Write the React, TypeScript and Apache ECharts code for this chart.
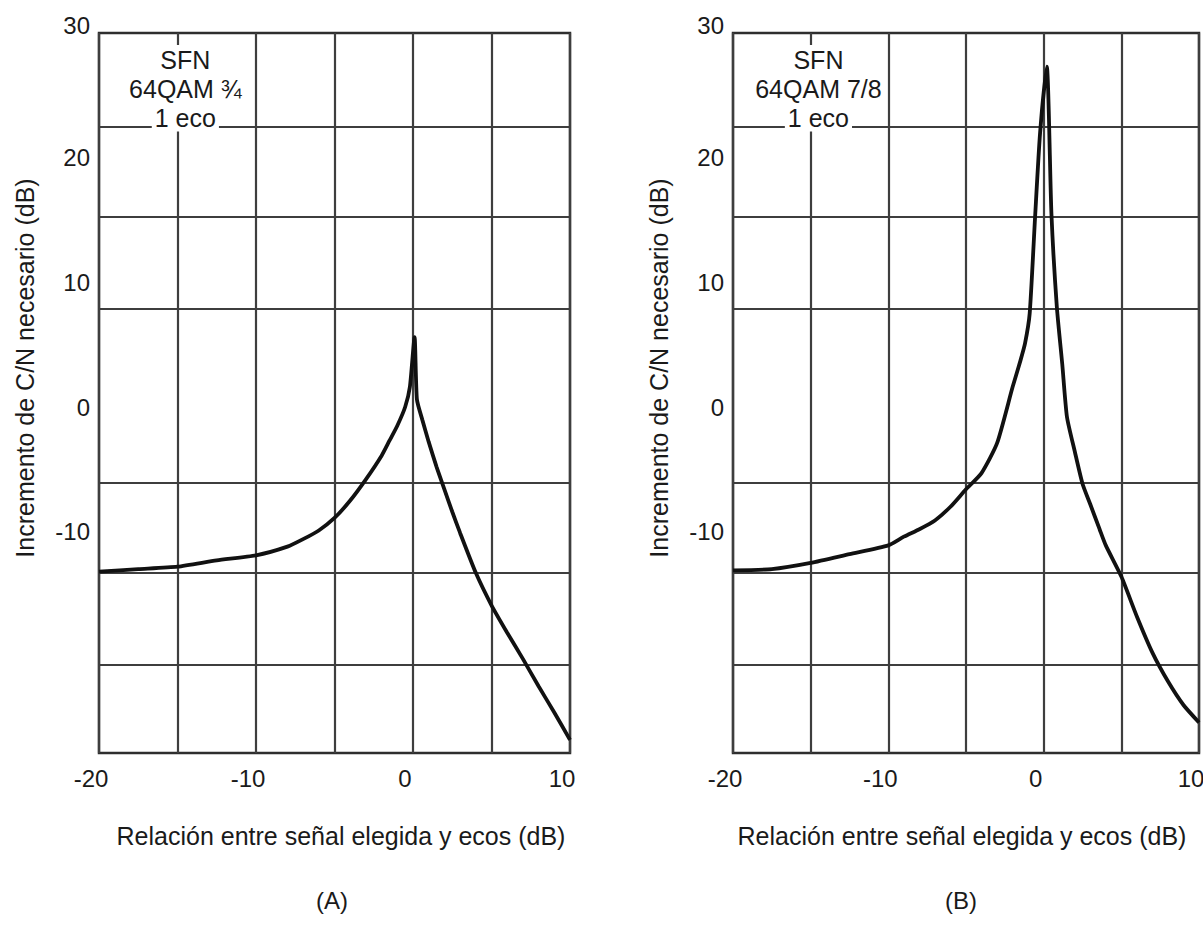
import React, { useEffect, useRef } from "react";
import * as echarts from "echarts";

// ---- data ----
const X_TICK_LABELS = [-20, -10, 0, 10];
const Y_TICK_LABELS = [-10, 0, 10, 20, 30];
const H_GRID_LINES = [22.5, 15.3, 7.9, -6.1, -13.3, -20.7];
const X_MIN = -20;
const X_MAX = 10;
const Y_MIN = -27.75;
const Y_MAX = 30;

const A_X = [-20, -17.5, -15, -12.5, -10, -8, -7, -6, -5, -4, -3, -2, -1.5, -1, -0.5, -0.2, 0.1, 0.25, 0.6, 1, 1.5, 2, 2.5, 3, 4, 5, 6, 7, 8, 9, 10];
const A_Y = [-13.2, -13.0, -12.8, -12.3, -11.9, -11.2, -10.6, -9.9, -8.9, -7.5, -5.8, -3.9, -2.7, -1.5, 0.0, 1.6, 5.6, 0.6, -1.05, -2.8, -4.8, -6.6, -8.4, -10.1, -13.3, -15.9, -18.1, -20.2, -22.4, -24.5, -26.7];

const B_X = [-20, -17.5, -15, -12.5, -10, -9, -8, -7, -6, -5, -4, -3, -2, -1.5, -1.2, -0.9, -0.55, -0.23, 0.2, 0.5, 0.85, 1.2, 1.5, 2, 2.5, 3, 3.6, 4, 5, 6, 7, 8, 9, 10];
const B_Y = [-13.1, -13.0, -12.5, -11.8, -11.1, -10.4, -9.8, -9.1, -8.0, -6.6, -5.3, -2.9, 1.6, 3.7, 5.1, 7.5, 15.3, 22.0, 27.3, 15.5, 8.0, 3.4, -0.8, -3.55, -6.15, -7.8, -9.8, -11.1, -13.6, -16.8, -19.7, -22.0, -23.9, -25.3];

const LEGEND_A = ["SFN", "64QAM ¾", "1 eco"];
const LEGEND_B = ["SFN", "64QAM 7/8", "1 eco"];
const Y_TITLE = "Incremento de C/N necesario (dB)";
const X_TITLE = "Relación entre señal elegida y ecos (dB)";
const PANEL_TAGS = ["(A)", "(B)"];

// ---- layout ----
const W = 1203;
const H = 925;
const GRIDS = [
  { left: 99, top: 33, width: 471, height: 720 },
  { left: 733, top: 33, width: 466, height: 720 },
];
const X_TITLE_CX = [341, 962];
const TAG_CX = [332, 961];
const FONT = '"Liberation Sans", Arial, Helvetica, sans-serif';
const INK = "#1a1a1a";
const GRID_INK = "#3e3e3e";

function textEl(text: string, x: number, y: number, size: number, extra: any = {}) {
  const { rotation, z, ...styleExtra } = extra;
  return {
    type: "text",
    x,
    y,
    rotation: rotation || 0,
    z: z || 60,
    style: {
      text,
      fontSize: size,
      fontFamily: FONT,
      fill: INK,
      align: "center",
      verticalAlign: "middle",
      textAlign: "center",
      textVerticalAlign: "middle",
      ...styleExtra,
    },
  };
}

function buildGraphics() {
  const els: any[] = [];
  GRIDS.forEach((g, i) => {
    const px = (v: number) => g.left + ((v - X_MIN) / (X_MAX - X_MIN)) * g.width;
    const py = (v: number) => g.top + ((Y_MAX - v) / (Y_MAX - Y_MIN)) * g.height;
    const lineY = py(H_GRID_LINES[0]);
    const cx = px(-14.5);
    const legend = i === 0 ? LEGEND_A : LEGEND_B;
    // white box for the legend (hides the grid line behind it)
    els.push({
      type: "rect",
      z: 50,
      shape: { x: g.left + 3, y: g.top + 12, width: px(-10) - g.left - 6, height: lineY - g.top - 15 },
      style: { fill: "#ffffff" },
    });
    els.push(textEl(legend[0], cx, g.top + 27, 25));
    els.push(textEl(legend[1], cx, g.top + 56, 25));
    els.push(textEl(legend[2], cx, lineY - 9, 25, { backgroundColor: "#ffffff", padding: [0, 3, 3, 3] }));
    // axis titles
    els.push(textEl(Y_TITLE, g.left - 74, 368, 25, { rotation: Math.PI / 2 }));
    els.push(textEl(X_TITLE, X_TITLE_CX[i], 836, 25));
    els.push(textEl(PANEL_TAGS[i], TAG_CX[i], 900, 24));
  });
  return els;
}

export default function App() {
  const ref = useRef<HTMLDivElement>(null);

  useEffect(() => {
    document.body.style.margin = "0";
    if (!ref.current) return;
    const chart = echarts.init(ref.current, null, { renderer: "svg" });
    const option: any = {
      animation: false,
      backgroundColor: "#ffffff",
      grid: GRIDS.map((g) => ({
        ...g,
        show: true,
        borderColor: "#2e2e2e",
        borderWidth: 2.5,
        backgroundColor: "transparent",
        containLabel: false,
        outerBoundsMode: "none",
      })),
      xAxis: GRIDS.map((_, i) => ({
        type: "value",
        gridIndex: i,
        min: X_MIN,
        max: X_MAX,
        interval: 5,
        axisLine: { show: false },
        axisTick: { show: false },
        axisLabel: {
          show: true,
          formatter: (v: number) => (X_TICK_LABELS.includes(v) ? String(v) : ""),
          fontSize: 24,
          fontFamily: FONT,
          color: INK,
          margin: 13,
          padding: [0, 16, 0, 0],
        },
        splitLine: { show: true, lineStyle: { color: GRID_INK, width: 2.2 } },
      })),
      yAxis: GRIDS.map((_, i) => ({
        type: "value",
        gridIndex: i,
        min: Y_MIN,
        max: Y_MAX,
        axisLine: { show: false },
        axisTick: { show: false, customValues: H_GRID_LINES },
        axisLabel: {
          show: true,
          customValues: Y_TICK_LABELS,
          formatter: (v: number) =>
            v === Y_MAX ? "{top|" + v + "}" : Y_TICK_LABELS.includes(v) ? String(v) : "",
          rich: { top: { fontSize: 24, fontFamily: FONT, color: INK, padding: [0, 0, 16, 0] } },
          fontSize: 24,
          fontFamily: FONT,
          color: INK,
          margin: 9,
        },
        splitLine: { show: true, lineStyle: { color: GRID_INK, width: 2.2 } },
      })),
      series: [
        {
          type: "line",
          xAxisIndex: 0,
          yAxisIndex: 0,
          data: A_X.map((x, k) => [x, A_Y[k]]),
          symbol: "none",
          silent: true,
          smooth: 0.2,
          z: 5,
          lineStyle: { color: "#111111", width: 3.8 },
        },
        {
          type: "line",
          xAxisIndex: 1,
          yAxisIndex: 1,
          data: B_X.map((x, k) => [x, B_Y[k]]),
          symbol: "none",
          silent: true,
          smooth: 0.2,
          z: 5,
          lineStyle: { color: "#111111", width: 3.8 },
        },
      ],
      graphic: { elements: buildGraphics() },
    };
    chart.setOption(option);
    return () => chart.dispose();
  }, []);

  return <div ref={ref} style={{ width: W, height: H }} />;
}
